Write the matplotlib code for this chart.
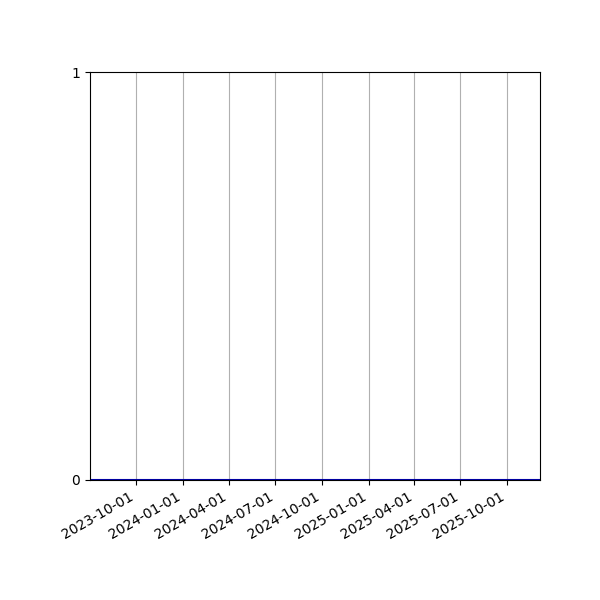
import matplotlib
matplotlib.use("Agg")
import matplotlib.pyplot as plt
import matplotlib.dates as mdates
import pandas as pd

dates = pd.to_datetime([
    "2023-07-02", "2023-10-01", "2024-01-01", "2024-04-01", "2024-07-01",
    "2024-10-01", "2025-01-01", "2025-04-01", "2025-07-01", "2025-10-01",
    "2025-12-05",
])
values = [0, 0, 0, 0, 0, 0, 0, 0, 0, 0, 0]
tick_dates = pd.to_datetime([
    "2023-10-01", "2024-01-01", "2024-04-01", "2024-07-01", "2024-10-01",
    "2025-01-01", "2025-04-01", "2025-07-01", "2025-10-01",
])

fig, ax = plt.subplots(figsize=(6, 6), dpi=100)
ax.plot(dates, values, color="#0000aa", lw=1.5)
ax.set_xlim(dates[0], dates[-1])
ax.set_ylim(0, 1)
ax.set_yticks([0, 1])
ax.set_xticks(tick_dates)
ax.xaxis.set_major_formatter(mdates.DateFormatter("%Y-%m-%d"))
ax.grid(axis="x", color="#b0b0b0")
fig.autofmt_xdate()
fig.subplots_adjust(left=0.15, right=0.9, top=0.88, bottom=0.2)
fig.savefig("out.png")
